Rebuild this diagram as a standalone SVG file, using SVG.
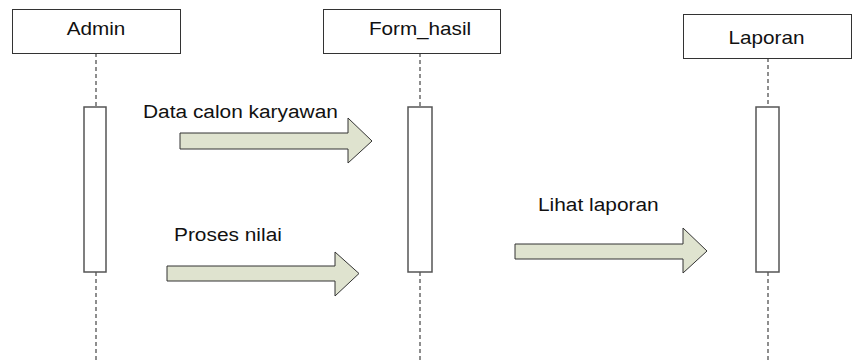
<svg xmlns="http://www.w3.org/2000/svg" width="866" height="360" viewBox="0 0 866 360">
<style>
.obj{fill:#fff;stroke:#333;stroke-width:1}
.act{fill:#fff;stroke:#555;stroke-width:1.5}
.life{stroke:#444;stroke-width:1.2;stroke-dasharray:4 3;fill:none}
.msg{fill:#dfe3cf;stroke:#333;stroke-width:1}
text{font-family:"Liberation Sans",Arial,sans-serif;font-size:18px;fill:#111}
</style>
<rect width="866" height="360" fill="#fff"/>
<g id="lifelines">
<line class="life" x1="96" y1="53" x2="96" y2="107"/>
<line class="life" x1="96" y1="272" x2="96" y2="360"/>
<line class="life" x1="420" y1="53" x2="420" y2="107"/>
<line class="life" x1="420" y1="272" x2="420" y2="360"/>
<line class="life" x1="768" y1="58" x2="768" y2="107"/>
<line class="life" x1="768" y1="272" x2="768" y2="360"/>
</g>
<g id="admin">
<rect class="obj" x="12.5" y="9.5" width="168" height="44"/>
<text transform="translate(96 35) scale(1.15 1)" text-anchor="middle">Admin</text>
<rect class="act" x="84" y="107" width="22" height="165"/>
</g>
<g id="form_hasil">
<rect class="obj" x="323.5" y="9.5" width="177" height="44"/>
<text transform="translate(420 35) scale(1.15 1)" text-anchor="middle">Form_hasil</text>
<rect class="act" x="408" y="107" width="24" height="165"/>
</g>
<g id="laporan">
<rect class="obj" x="683.5" y="14.5" width="168" height="44"/>
<text transform="translate(766.5 44) scale(1.15 1)" text-anchor="middle">Laporan</text>
<rect class="act" x="756" y="107" width="23" height="165"/>
</g>
<g id="connectors">
<g id="msg1">
<polygon class="msg" points="180,133 348,133 348,118 372,141 348,163 348,149 180,149"/>
<text transform="translate(143 117.5) scale(1.16 1)">Data calon karyawan</text>
</g>
<g id="msg2">
<polygon class="msg" points="167,266 335,266 335,252 359,273.5 335,296 335,281 167,281"/>
<text transform="translate(174 240.5) scale(1.16 1)">Proses nilai</text>
</g>
<g id="msg3">
<polygon class="msg" points="515,244 683,244 683,228 707,251 683,273 683,259 515,259"/>
<text transform="translate(538 210.5) scale(1.16 1)">Lihat laporan</text>
</g>
</g>
</svg>
